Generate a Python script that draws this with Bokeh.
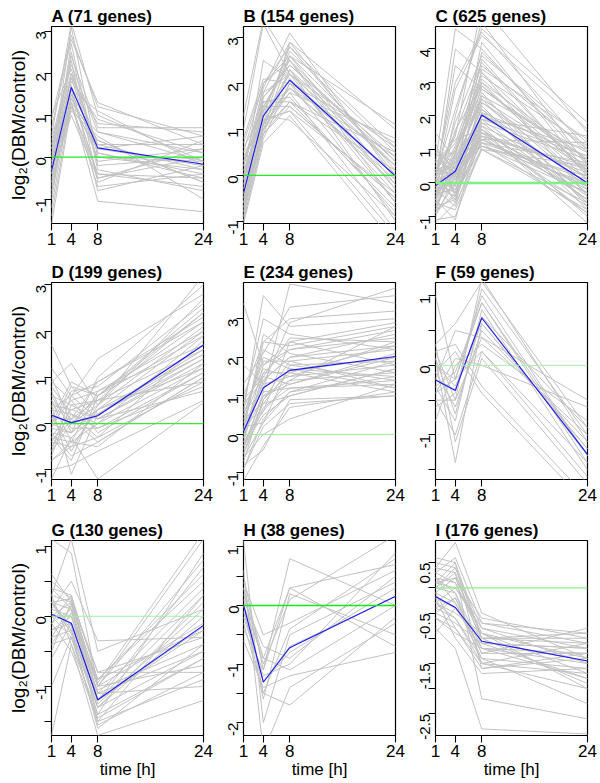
import math
from bokeh.plotting import figure
from bokeh.layouts import gridplot
from bokeh.models import Range1d, FixedTicker, Span, ColumnDataSource
from bokeh.embed import file_html
from bokeh.resources import INLINE

# ---------------- data ----------------
times = [1, 4, 8, 24]
letters = ["A", "B", "C", "D", "E", "F", "G", "H", "I"]
gene_counts = [71, 154, 625, 199, 234, 59, 130, 38, 176]

mean_A = [-0.33, 1.66, 0.22, -0.17]
mean_B = [-0.39, 1.29, 2.07, -0.02]
mean_C = [-0.08, 0.35, 2.03, 0.0]
mean_D = [0.18, 0.02, 0.17, 1.70]
mean_E = [0.08, 1.21, 1.66, 2.02]
mean_F = [-0.21, -0.36, 0.68, -1.28]
mean_G = [0.03, -0.10, -1.19, -0.13]
mean_H = [0.02, -1.31, -0.72, 0.16]
mean_I = [-0.17, -0.39, -1.06, -1.45]

genes_A = [
    [-0.3, 1.7, 0.2, -0.2], [-1.6, 1.2, -0.4, -0.5], [0.9, 2.9, 1.2, 0.5],
    [-0.8, 1.4, 0.0, -0.3], [0.3, 2.2, 0.6, 0.1], [-0.5, 1.0, -0.5, 0.2],
    [0.5, 3.2, 1.0, -0.1], [-1.2, 1.5, 0.4, -0.6], [0.0, 2.5, -0.3, -0.8],
    [-0.2, 1.9, 0.8, 0.6], [0.6, 1.3, -0.7, -0.4], [-0.9, 2.0, 0.3, 0.3],
    [0.2, 1.6, 1.1, -0.2], [-0.4, 2.7, -0.2, 0.0], [-0.1, 1.1, 0.5, -1.0],
    [0.4, 2.3, -0.6, 0.4], [-0.7, 1.8, 0.9, 0.1], [1.0, 2.1, 0.1, -0.5],
    [-1.4, 1.3, -1.05, -1.3], [-0.6, 2.4, 0.7, 0.7], [0.1, 1.5, -0.4, -0.7],
    [-0.3, 1.2, 0.2, 0.5], [0.7, 2.8, 1.3, 0.3], [-1.0, 1.7, -0.8, -0.2],
    [-0.2, 3.1, 0.0, -0.1], [-0.4, 1.4, 0.3, -0.3], [0.2, 1.9, -0.1, 0.2],
    [-0.6, 1.2, 0.6, -0.1], [0.3, 2.0, 0.1, -0.4], [-0.1, 1.6, -0.5, 0.0],
    [0.0, 1.3, 0.4, -0.6],
]
genes_B = [
    [-0.4, 1.3, 2.1, 0.0], [-1.0, 0.9, 1.5, -0.5], [0.5, 2.0, 2.8, 0.6],
    [-0.8, 1.1, 1.8, -1.2], [0.0, 1.5, 2.4, 0.3], [-0.6, 1.0, 1.6, 0.1],
    [1.3, 3.4, 2.5, -0.3], [-0.2, 1.8, 2.9, 1.0], [-1.05, 0.7, 1.3, -1.5],
    [0.3, 1.3, 2.2, -0.6], [-0.5, 1.2, 1.9, 0.4], [-0.9, 1.0, 2.6, -0.2],
    [0.8, 2.1, 2.0, 0.7], [-0.3, 1.6, 1.7, -0.8], [0.1, 1.1, 2.3, 0.2],
    [-0.7, 1.4, 2.7, 0.5], [-0.1, 2.5, 2.1, -0.4], [0.4, 1.2, 1.4, -1.3],
    [-1.0, 0.8, 2.0, 0.0], [0.2, 1.9, 3.1, -0.1], [-0.4, 1.3, 1.2, -0.9],
    [1.0, 3.3, 2.2, 0.2], [-0.6, 1.5, 2.5, -0.6], [0.0, 1.0, 1.8, 0.8],
    [-0.8, 1.7, 2.3, -0.3], [0.6, 1.4, 2.6, 1.1], [-0.2, 1.1, 1.9, -0.1],
    [0.3, 1.7, 2.4, 0.4], [-0.7, 0.9, 1.6, -0.7], [0.1, 1.3, 2.8, 0.1],
    [-0.5, 1.8, 2.2, 0.6], [-0.9, 1.2, 1.4, -0.4], [0.5, 1.0, 2.0, -0.9],
    [-0.3, 2.0, 2.6, 0.3], [0.0, 1.4, 1.9, -0.2], [-0.6, 1.1, 2.9, 0.0],
    [0.2, 1.6, 1.6, 0.5], [-0.4, 0.9, 2.3, -1.0], [0.7, 2.0, 2.5, 0.2],
    [-0.1, 1.5, 1.5, -0.5],
]
genes_C = [
    [-0.1, 0.35, 2.05, 0.0], [-1.2, -0.6, 1.0, -0.8], [0.5, 1.2, 3.5, 1.0],
    [-0.6, 0.0, 1.3, -0.3], [0.2, 0.6, 2.5, 0.5], [-0.9, -0.3, 1.6, -1.2],
    [0.0, 2.8, 4.4, 1.6], [-0.3, 0.3, 1.1, 0.2], [0.8, 0.9, 3.0, 0.7],
    [-0.5, -1.1, 1.8, -0.5], [0.3, 0.5, 2.2, -0.1], [-0.2, 1.8, 3.8, 1.2],
    [-0.8, -0.4, 1.4, 0.4], [1.0, 0.4, 2.7, -0.7], [-0.4, 0.8, 1.9, 0.8],
    [0.1, -0.2, 1.2, -0.9], [-1.0, 0.2, 2.9, 0.3], [0.6, 4.6, 4.0, 0.6],
    [-0.7, -0.5, 1.5, -0.2], [0.4, 1.0, 3.3, -0.4], [-0.3, 0.1, 2.0, 1.0],
    [1.5, 0.7, 2.4, 0.1], [-0.6, -0.8, 1.0, -0.6], [0.2, 2.2, 4.6, 1.8],
    [-0.1, 0.5, 1.7, -1.0], [0.0, -0.3, 2.6, 0.9], [-0.9, 0.9, 3.1, 0.4],
    [0.7, 0.3, 1.3, -0.1], [-0.4, -0.1, 2.3, -0.8], [0.3, 1.5, 3.6, 0.2],
    [-0.2, 0.0, 1.4, 0.5], [1.2, -0.4, 2.1, -0.3], [-1.1, -1.0, 1.1, 0.0],
    [0.1, 3.5, 2.8, 0.7], [-0.5, 0.6, 1.6, -0.5], [0.4, 0.2, 4.2, 0.3],
    [0.3, 1.4, 5.3, 1.5], [-0.5, 0.2, 1.2, 0.1], [0.2, -0.5, 1.9, -0.4],
    [-0.3, 0.9, 2.8, 0.6], [0.5, 0.1, 1.5, 0.3], [-0.7, 0.4, 2.2, -0.6],
    [0.0, 1.1, 3.2, 1.1], [-0.2, -0.7, 1.3, -0.1], [0.4, 0.6, 2.0, 0.0],
    [-0.9, 0.0, 1.8, 0.7], [0.1, -0.1, 3.4, 1.3], [-0.4, 0.5, 2.6, -0.2],
    [0.6, 1.3, 1.6, -0.5], [-0.1, -0.4, 1.2, 0.6], [0.3, 0.8, 3.9, 0.9],
    [-0.6, 0.3, 1.5, -0.9], [0.2, 0.0, 2.4, 0.4], [-0.3, -0.2, 1.7, 0.2],
    [0.9, 0.6, 1.1, -0.3], [-0.5, 1.6, 2.9, 0.1], [0.0, 0.4, 1.4, -0.7],
    [0.4, -0.6, 2.1, 0.8], [-0.8, 0.7, 3.0, -0.1], [0.1, 0.2, 1.9, 1.4],
    [-0.2, 1.0, 2.5, -0.6], [0.5, -0.3, 1.0, 0.5], [-0.1, 0.3, 3.7, 0.2],
    [0.3, 3.0, 4.5, 1.0], [-0.6, 2.0, 4.8, 0.5], [0.0, 4.0, 3.3, 0.3],
    [0.2, 0.7, 1.3, 1.2],
]
genes_D = [
    [0.2, 0.0, 0.2, 1.7], [-0.8, -0.5, -0.3, 0.9], [1.7, 0.8, 0.6, 2.5],
    [-0.3, 0.3, 0.1, 1.3], [0.5, -0.4, 0.7, 2.0], [-1.0, -0.9, -0.6, 0.5],
    [0.9, 1.3, 0.4, 3.2], [0.0, 0.5, -0.2, 1.1], [-0.5, 0.1, 0.9, 2.3],
    [0.7, -0.2, 0.3, 1.5], [-0.2, -0.7, -0.4, 1.0], [1.2, 0.6, 1.4, 2.8],
    [0.3, 0.2, 0.0, 1.9], [-0.7, 0.4, 0.5, 1.6], [0.6, -0.1, -0.1, 0.8],
    [-0.1, 0.7, 0.8, 2.6], [0.4, -1.1, 0.2, 1.4], [-1.2, -0.3, -1.2, 0.45],
    [0.1, 0.9, 0.6, 2.2], [-0.4, -0.5, 0.3, 1.2], [0.8, 0.2, -0.3, 1.8],
    [0.0, -0.2, 1.0, 3.0], [-0.6, 0.6, 0.1, 0.7], [1.0, 0.0, 0.4, 2.1],
    [-0.3, -0.4, -0.5, 1.3], [0.4, 0.3, 0.5, 2.4], [-0.2, -0.3, 0.2, 1.5],
    [0.1, 0.1, -0.4, 1.0], [-0.6, 0.0, 0.6, 1.9], [0.6, 0.4, 0.1, 1.4],
    [0.2, -0.6, 0.4, 2.7], [-0.4, 0.2, -0.1, 1.1], [0.9, 0.5, 0.7, 1.7],
    [-0.1, -0.2, 0.3, 2.0], [0.3, 0.6, 0.9, 2.2], [-0.8, -0.4, 0.0, 1.2],
    [0.5, 0.1, 0.5, 0.9], [0.0, 0.8, 0.2, 1.6], [-0.3, -0.8, 0.6, 2.4],
]
genes_E = [
    [0.1, 1.2, 1.65, 2.0], [-0.9, 0.2, 0.8, 1.0], [1.0, 2.4, 3.0, 3.2],
    [-0.5, 0.7, 1.2, 1.4], [0.4, 1.6, 2.2, 2.5], [-1.2, -0.3, 0.7, 1.1],
    [3.4, 1.8, 2.4, 1.8], [0.0, 1.0, 1.4, 2.8], [0.8, 3.0, 2.6, 2.2],
    [-0.3, 0.5, 1.0, 1.7], [0.5, 1.9, 1.9, 1.2], [-0.7, 0.9, 1.6, 2.3],
    [1.3, 2.1, 3.3, 3.6], [0.2, 0.3, 1.1, 1.5], [-0.1, 1.4, 2.0, 2.6],
    [0.6, 3.6, 2.8, 3.0], [-0.6, 0.0, 0.4, 1.3], [0.3, 2.2, 1.8, 1.9],
    [-0.4, 1.1, 3.9, 3.4], [0.9, 1.5, 1.3, 2.1], [-0.2, 0.6, 2.4, 2.9],
    [0.1, 2.6, 2.1, 1.6], [-0.8, -0.4, 0.9, 1.0], [0.7, 1.7, 1.5, 2.4],
    [1.8, 1.3, 2.9, 3.8], [-0.3, 0.8, 1.7, 1.2], [0.2, 1.3, 1.5, 1.8],
    [-0.5, 0.9, 1.9, 2.2], [0.6, 1.1, 1.2, 1.3], [-0.1, 1.8, 2.2, 2.7],
    [0.3, 0.6, 1.4, 1.6], [-0.9, 0.4, 1.1, 1.9], [0.0, 1.5, 2.5, 2.4],
    [0.5, 2.0, 1.7, 1.5], [-0.3, 1.0, 1.3, 2.0], [0.8, 1.4, 2.0, 2.3],
    [-0.6, 0.3, 1.8, 1.4], [0.1, 2.4, 2.3, 2.8], [0.4, 0.8, 1.0, 1.7],
    [-0.2, 1.6, 1.6, 1.1],
]
genes_F = [
    [-0.2, -0.35, 0.7, -1.3], [-0.5, -1.0, 0.2, -1.6], [0.3, 0.6, 1.2, -0.9],
    [-0.1, -0.6, 0.5, -1.1], [1.0, -0.2, 0.9, -1.4], [-0.4, 0.1, 0.0, -0.6],
    [0.1, -1.4, 0.6, -1.2], [-0.6, -0.4, 1.1, -1.0], [0.2, 0.3, -0.3, -1.9],
    [-0.3, -0.8, 0.8, -1.5], [-0.8, 0.0, 0.3, -0.8], [0.0, -0.2, 1.0, -1.3],
    [-0.2, 0.5, 0.4, -0.5], [0.3, -1.1, 0.1, -1.7], [-0.5, -0.5, 1.25, -1.1],
    [-0.1, 0.2, -0.4, -2.0], [0.1, -0.7, 0.7, -0.9], [-0.4, -0.2, 0.2, -1.4],
    [0.0, -0.3, 0.6, -1.2], [-0.3, -0.1, 0.9, -1.3], [0.2, -0.5, 0.4, -1.0],
]
genes_G = [
    [0.03, -0.1, -1.2, -0.15], [-0.4, -0.3, -1.5, -0.9], [0.4, 0.3, -0.9, 0.6],
    [-0.1, 0.1, -1.1, -0.5], [0.2, -0.2, -1.3, 0.2], [1.1, 0.9, -1.0, 1.1],
    [-1.7, -0.4, -1.7, -1.2], [0.0, 0.2, -0.8, -0.3], [0.3, -0.4, -1.4, 0.9],
    [-0.2, 0.0, -1.0, -0.7], [0.5, 0.25, -1.2, 0.3], [-0.3, -0.2, -1.6, -0.4],
    [0.1, 0.5, -0.35, -0.3], [-0.6, -0.1, -0.9, 0.5], [0.2, 0.1, -1.1, -1.0],
    [-1.0, -0.3, -1.3, 0.0], [0.6, 0.2, -1.0, 0.8], [-0.1, -0.5, -1.45, -0.6],
    [0.3, 1.1, -0.5, 0.1], [0.0, 0.0, -1.2, -0.2], [-0.3, 0.15, -0.95, 1.2],
    [0.2, -0.25, -1.55, -0.8], [0.1, 0.0, -1.1, 0.4], [-0.2, -0.1, -1.3, -0.5],
    [0.3, 0.2, -1.0, -0.1], [-0.1, 0.3, -1.2, 0.7], [0.2, -0.15, -1.4, -0.6],
    [-0.4, 0.05, -0.9, -0.2], [0.4, 0.1, -1.25, 0.1], [0.0, -0.3, -1.05, -0.4],
    [-0.5, 0.2, -1.5, 0.3], [0.2, 0.25, -0.8, -0.8],
]
genes_H = [
    [0.02, -1.3, -0.7, 0.15], [0.5, -1.1, 0.8, 0.0], [-0.3, -1.5, -1.7, -0.2],
    [0.3, -0.9, 0.3, 0.7], [1.1, -2.0, -0.5, 0.4], [-0.2, -1.2, -1.0, 0.9],
    [0.0, -1.6, 0.2, -0.5], [0.4, -0.5, -0.3, 0.6], [-0.6, -1.4, -1.2, -0.8],
    [0.2, -1.0, 0.1, 1.2], [-0.1, -1.3, -0.8, 0.3], [0.6, -2.5, -1.4, -0.3],
    [0.1, -0.7, -0.9, 0.5], [-0.4, -1.1, 0.3, -0.7], [0.3, -1.5, -0.4, 0.8],
    [0.0, -0.9, -1.1, 0.0],
]
genes_I = [
    [-0.17, -0.39, -1.06, -1.45], [-0.6, -0.8, -1.5, -2.0], [0.3, 0.6, -0.7, -0.9],
    [0.0, -0.1, -1.2, -1.3], [-0.3, -0.5, -0.9, -1.7], [0.5, 0.4, -1.0, -1.1],
    [-0.8, -1.2, -2.8, -2.9], [-0.1, 0.2, -0.6, -1.0], [0.2, -0.3, -1.4, -2.3],
    [-0.5, -0.7, -1.1, -1.2], [0.1, 0.0, -0.8, -1.5], [-0.4, -0.2, -1.3, -0.8],
    [0.4, 0.9, -0.5, -1.4], [-0.2, -1.0, -1.7, -1.6], [-0.9, -0.4, -1.0, -1.9],
    [0.0, 0.3, -2.2, -2.6], [-0.3, -0.6, -1.5, -1.1], [0.2, 0.1, -0.9, -2.0],
    [-0.6, -0.9, -1.2, -1.8], [0.6, 0.5, -1.6, -1.3], [-0.1, -0.3, -1.1, -1.2],
    [0.1, 0.2, -0.9, -1.4], [-0.4, -0.6, -1.4, -1.6], [0.3, 0.1, -1.0, -1.0],
    [-0.2, -0.4, -1.2, -1.5], [0.0, 0.4, -0.8, -1.2], [-0.5, -0.2, -1.3, -1.3],
    [0.2, -0.1, -1.5, -1.7], [-0.3, 0.0, -0.7, -1.1], [0.4, 0.3, -1.1, -1.8],
    [-0.1, -0.8, -1.6, -1.4], [0.1, 0.5, -1.0, -0.9],
]

y_limits = [(-1.58, 3.11), (-1.05, 3.24), (-1.21, 4.67),
            (-1.21, 3.05), (-1.17, 3.94), (-1.64, 1.19),
            (-1.70, 1.08), (-2.22, 1.11), (-2.93, 0.94)]
y_ticks = [[-1, 0, 1, 2, 3], [-1, 0, 1, 2, 3], [-1, 0, 1, 2, 3, 4],
           [-1, 0, 1, 2, 3], [-1, 0, 1, 2, 3], [-1.5, -1, -0.5, 0, 0.5, 1],
           [-1.5, -1, -0.5, 0, 0.5, 1], [-2, -1.5, -1, -0.5, 0, 0.5, 1],
           [-2.5, -2, -1.5, -1, -0.5, 0, 0.5]]
y_tick_text = [["-1", "0", "1", "2", "3"], ["-1", "0", "1", "2", "3"],
               ["-1", "0", "1", "2", "3", "4"], ["-1", "0", "1", "2", "3"],
               ["-1", "0", "1", "2", "3"], ["", "-1", "", "0", "", "1"],
               ["", "-1", "", "0", "", "1"], ["-2", "", "-1", "", "0", "", "1"],
               ["-2.5", "", "-1.5", "", "-0.5", "", "0.5"]]

all_genes = [genes_A, genes_B, genes_C, genes_D, genes_E, genes_F, genes_G, genes_H, genes_I]
all_means = [mean_A, mean_B, mean_C, mean_D, mean_E, mean_F, mean_G, mean_H, mean_I]

# ---------------- style / layout ----------------
FONT = "Liberation Sans"
FRAME_W, FRAME_H = 152, 197
COL_LEFT = [51, 30, 30]
COL_RIGHT = [10, 10, 10]
ROW_TOP = [26, 26, 20]
ROW_BOTTOM = [33, 39, 48]
zero_style = [("#22F022", 1.3), ("#22F022", 1.3), ("#80F080", 2.4),
              ("#33EE33", 1.3), ("#9AF09A", 1.0), ("#A8F0A8", 1.0),
              ("#9AF09A", 1.0), ("#10F010", 1.3), ("#8AF08A", 1.2)]


def make_panel(i):
    col, rw = i % 3, i // 3
    bl, br, bt, bb = COL_LEFT[col], COL_RIGHT[col], ROW_TOP[rw], ROW_BOTTOM[rw]
    p = figure(width=bl + FRAME_W + br, height=bt + FRAME_H + bb,
               x_range=Range1d(1, 24), y_range=Range1d(*y_limits[i]),
               output_backend="svg", toolbar_location=None,
               title=f"{letters[i]} ({gene_counts[i]} genes)",
               min_border_left=bl, min_border_right=br,
               min_border_top=bt, min_border_bottom=bb)
    p.title.align = "left"
    p.title.text_font = FONT
    p.title.text_font_size = "17px"
    p.title.text_font_style = "bold"
    p.title.text_color = "black"
    p.title.standoff = 1
    p.title.offset = 0
    p.grid.visible = False
    p.outline_line_color = "black"
    p.outline_line_width = 1.2
    p.background_fill_color = "white"
    p.border_fill_color = "white"

    src = ColumnDataSource(dict(xs=[times] * len(all_genes[i]), ys=all_genes[i]))
    p.multi_line("xs", "ys", source=src, line_color="#C2C2C2", line_width=1.0)
    zc, zw = zero_style[i]
    p.add_layout(Span(location=0, dimension="width", line_color=zc, line_width=zw))
    p.line(times, all_means[i], line_color="#1A1AF0", line_width=1.1)

    for ax in (p.xaxis[0], p.yaxis[0]):
        ax.axis_line_color = None
        ax.major_tick_out = 7
        ax.major_tick_in = 0
        ax.minor_tick_line_color = None
        ax.major_tick_line_color = "black"
        ax.major_tick_line_width = 1.1
        ax.major_label_text_font = FONT
        ax.major_label_text_color = "black"
        ax.axis_label_text_font = FONT
        ax.axis_label_text_font_style = "normal"
        ax.axis_label_text_color = "black"
        ax.axis_label_standoff = 0
    p.xaxis.ticker = FixedTicker(ticks=times)
    p.xaxis.major_label_overrides = {t: str(t) for t in times}
    p.xaxis.major_label_text_font_size = "17px"
    p.xaxis.major_label_standoff = 2
    p.yaxis.ticker = FixedTicker(ticks=y_ticks[i])
    p.yaxis.major_label_overrides = {t: s for t, s in zip(y_ticks[i], y_tick_text[i])}
    p.yaxis.major_label_text_font_size = "15px"
    p.yaxis.major_label_orientation = math.pi / 2
    p.yaxis.major_label_standoff = 3
    if col == 0:
        p.yaxis.axis_label = "log₂(DBM/control)"
        p.yaxis.axis_label_text_font_size = "19px"
    if rw == 2:
        p.xaxis.axis_label = "time [h]"
        p.xaxis.axis_label_text_font_size = "17px"
    return p


panels = [make_panel(i) for i in range(9)]
grid = gridplot([panels[0:3], panels[3:6], panels[6:9]], toolbar_location=None)

open("out.html", "w").write(file_html(grid, INLINE))
